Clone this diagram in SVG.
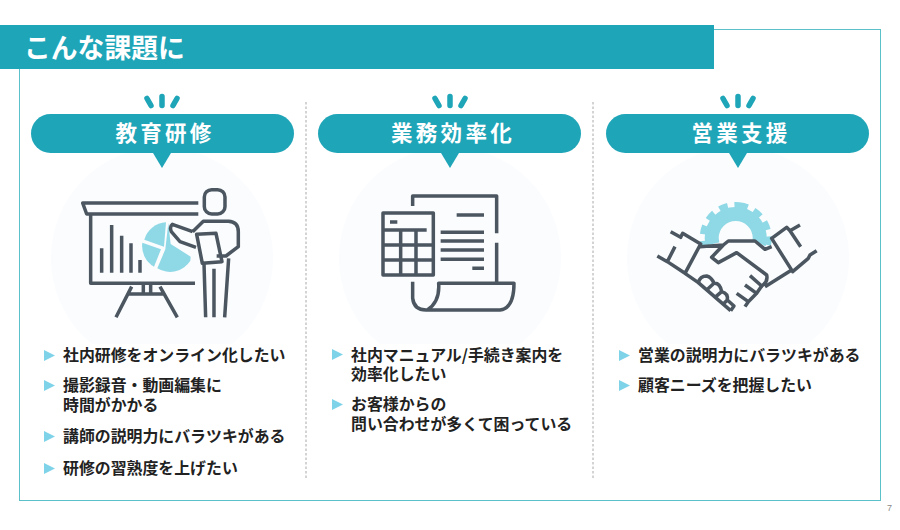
<svg xmlns="http://www.w3.org/2000/svg" width="900" height="530" viewBox="0 0 900 530">
<style>
.jp{font-family:"Noto Sans CJK JP","Noto Sans",sans-serif;font-weight:700}
.title{font-size:26.8px;fill:#fff}
.pill{font-size:21.5px;fill:#fff;text-anchor:middle;letter-spacing:3.3px}
.item{font-size:15.9px;fill:#222}
.tick{stroke:#1fa5b8;stroke-width:5.5;stroke-linecap:round;fill:none}
.band{fill:#1fa5b8}
.disc{fill:#fafcfe}
.bul{fill:#7fd3e8}
.div{stroke:#a8a8a8;stroke-width:1;stroke-dasharray:2.5 2;fill:none}
.ic{fill:none;stroke:#4b5660;stroke-width:10.5;stroke-linejoin:round}
.lb{fill:#8fd8e6}
</style>
<defs>
<clipPath id="gearclip"><polygon points="640,180 840,180 840,248 771,249 755,241 725,241 700,247 640,247"/></clipPath>
</defs>
<rect x="19.5" y="29.5" width="861" height="471" fill="#fff" stroke="#5cc0c8" stroke-width="1"/>
<g id="header"><rect class="band" x="0" y="25" width="714" height="44"/><text class="jp title" x="24" y="58">こんな課題に</text></g>
<g id="connectors"><path class="div" d="M306 102V480M593 102V480"/></g>

<g id="col1">
<circle class="disc" cx="162" cy="258" r="111"/>
<rect x="30" y="344" width="270" height="140" fill="#fff"/>
<path class="tick" d="M147 98.500L151 105.500M162 96.500V105.500M177 98.500L173 105.500"/>
<rect class="band" x="31" y="114" width="263" height="39" rx="19.500"/>
<polygon class="band" points="153,153 171,153 162,168"/>
<text class="jp pill" x="165" y="141">教育研修</text>
<g transform="translate(50 90) scale(.3333)">
<path class="lb" d="M348 397A72 72 0 0 0 283 449L342 470Z"/>
<path class="lb" d="M277 458L333 478L312 530A72 72 0 0 1 277 458Z"/>
<path class="lb" d="M346 478L322 535A72 72 0 0 0 421 512L422 500L362 462L355 400Z"/>
<path class="ic" d="M445 339H98L110 372H445M122 375V580H435M155 475V548M185 405V548M215 437V548M243 460V548M270 510V548"/>
<path class="ic" d="M245 590L198 682M330 590L382 682M232 612H342M280 585V612M302 585V612"/>
<rect class="ic" x="463" y="299" width="62" height="73" rx="22"/>
<path class="ic" d="M428 425L367 403Q358 410 364 425L390 455L438 472M428 425L460 394H535Q565 395 565 425V470L528 498H500M440 433L498 430L516 515L457 520Z"/>
<path class="ic" d="M462 520L467 682M492 536V682M536 505L524 682"/>
</g>
<polygon class="bul" points="44,350 55,355.500 44,361"/>
<text class="jp item" x="63" y="360.500">社内研修をオンライン化したい</text>
<polygon class="bul" points="44,380 55,385.500 44,391"/>
<text class="jp item" x="63" y="390.500">撮影録音・動画編集に<tspan x="63" dy="20">時間がかかる</tspan></text>
<polygon class="bul" points="44,431 55,436.500 44,442"/>
<text class="jp item" x="63" y="441.500">講師の説明力にバラツキがある</text>
<polygon class="bul" points="44,463 55,468.500 44,474"/>
<text class="jp item" x="63" y="473.500">研修の習熟度を上げたい</text>
</g>

<g id="col2">
<circle class="disc" cx="450" cy="258" r="111"/>
<rect x="318" y="344" width="268" height="140" fill="#fff"/>
<path class="tick" d="M435 98.500L439 105.500M450 96.500V105.500M465 98.500L461 105.500"/>
<rect class="band" x="318" y="114" width="263" height="39" rx="19.500"/>
<polygon class="band" points="441,153 459,153 450,168"/>
<text class="jp pill" x="453" y="141">業務効率化</text>
<g transform="translate(340 170) scale(.3333)">
<path class="ic" d="M218 108V78H470V190M470 218V340M218 335V385Q222 420 258 420H480Q522 415 522 340H296Q300 395 262 420"/>
<path class="ic" d="M350 135H432M302 187H432M302 213H432M302 240H432M302 268H432M397 295H432"/>
<rect class="ic" x="129" y="129" width="151" height="186"/>
<path class="ic" d="M150 156H172M129 180H260M182 180V315M228 180V315M129 225H280M129 270H280"/>
</g>
<polygon class="bul" points="332,349 343,354.500 332,360"/>
<text class="jp item" x="351" y="360.500">社内マニュアル/手続き案内を<tspan x="351" dy="19">効率化したい</tspan></text>
<polygon class="bul" points="332,399 343,404.500 332,410"/>
<text class="jp item" x="351" y="409.500">お客様からの<tspan x="351" dy="20">問い合わせが多くて困っている</tspan></text>
</g>

<g id="col3">
<circle class="disc" cx="738" cy="258" r="111"/>
<rect x="606" y="344" width="268" height="140" fill="#fff"/>
<path class="tick" d="M723 98.500L727 105.500M738 96.500V105.500M753 98.500L749 105.500"/>
<rect class="band" x="606" y="114" width="263" height="39" rx="19.500"/>
<polygon class="band" points="729,153 747,153 738,168"/>
<text class="jp pill" x="741" y="141">営業支援</text>
<g clip-path="url(#gearclip)">
<circle cx="735.700" cy="238" r="24" fill="none" stroke="#8fd8e6" stroke-width="14"/>
<circle cx="735.700" cy="238" r="32" fill="none" stroke="#8fd8e6" stroke-width="8" stroke-dasharray="8.500 6.580" transform="rotate(-83.800 735.700 238)"/>
</g>
<g transform="translate(640 180) scale(.3333)">
<path class="ic" d="M92 155L122 172L128 160L182 192L135 280L82 245L52 228M82 245L105 200"/>
<path class="ic" d="M480 135L450 152L440 142L395 175L458 275L505 235L510 225L530 212M450 152L482 200"/>
<path class="ic" d="M180 200L250 195L265 183H345L375 208L395 200M250 195L215 232L235 248L290 218L380 285Q385 305 365 318L330 287M135 280L175 308L272 392M375 320L455 270"/>
<path class="ic" d="M175 308Q180 288 200 288Q215 292 222 310Q240 308 245 335Q265 340 262 360L282 378L272 392M222 310L200 330M245 335L225 352M262 360L250 372"/>
<path class="ic" d="M365 318L350 340L315 315M350 340L325 365L290 340M325 365L315 380"/>
</g>
<polygon class="bul" points="619,350 630,355.500 619,361"/>
<text class="jp item" x="638" y="360.500">営業の説明力にバラツキがある</text>
<polygon class="bul" points="619,380 630,385.500 619,391"/>
<text class="jp item" x="638" y="391">顧客ニーズを把握したい</text>
</g>
<text x="887" y="511" font-family="Liberation Sans,sans-serif" font-size="9" fill="#888">7</text>
</svg>
